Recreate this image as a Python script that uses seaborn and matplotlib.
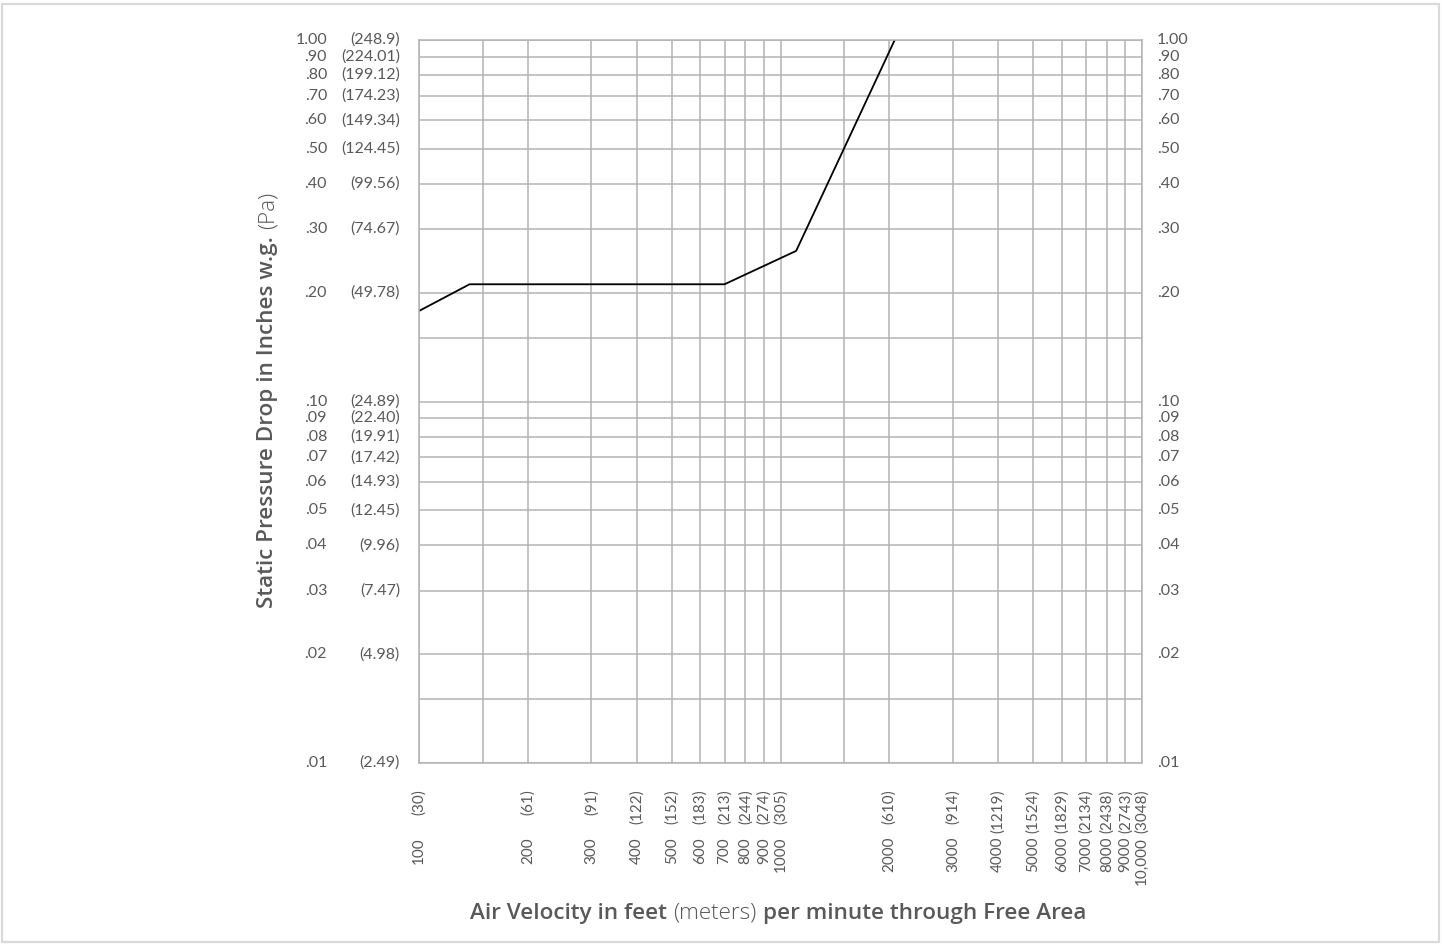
import matplotlib
matplotlib.use("Agg")
import matplotlib.pyplot as plt
import matplotlib.transforms as mtransforms
from matplotlib.patches import Rectangle
import seaborn as sns
import pandas as pd

# ---------------- data ----------------
velocity_fpm = [100, 138, 700, 1105, 2070]
pressure_inwg = [0.178, 0.211, 0.211, 0.261, 1.0]

y_ticks = [0.01, 0.02, 0.03, 0.04, 0.05, 0.06, 0.07, 0.08, 0.09, 0.10,
           0.20, 0.30, 0.40, 0.50, 0.60, 0.70, 0.80, 0.90, 1.00]
y_labels_in = [".01", ".02", ".03", ".04", ".05", ".06", ".07", ".08", ".09", ".10",
               ".20", ".30", ".40", ".50", ".60", ".70", ".80", ".90", "1.00"]
y_labels_pa = ["(2.49)", "(4.98)", "(7.47)", "(9.96)", "(12.45)", "(14.93)", "(17.42)",
               "(19.91)", "(22.40)", "(24.89)", "(49.78)", "(74.67)", "(99.56)",
               "(124.45)", "(149.34)", "(174.23)", "(199.12)", "(224.01)", "(248.9)"]
y_extra_grid = [0.015, 0.15]

x_ticks = [100, 200, 300, 400, 500, 600, 700, 800, 900, 1000,
           2000, 3000, 4000, 5000, 6000, 7000, 8000, 9000, 10000]
x_labels_ft = ["100", "200", "300", "400", "500", "600", "700", "800", "900", "1000",
               "2000", "3000", "4000", "5000", "6000", "7000", "8000", "9000", "10,000"]
x_labels_m = ["(30)", "(61)", "(91)", "(122)", "(152)", "(183)", "(213)", "(244)", "(274)",
              "(305)", "(610)", "(914)", "(1219)", "(1524)", "(1829)", "(2134)", "(2438)",
              "(2743)", "(3048)"]
x_extra_grid = [150, 1500]

df = pd.DataFrame({"velocity": velocity_fpm, "pressure": pressure_inwg})

# ---------------- style ----------------
sns.set_style("white")
plt.rcParams["font.family"] = ["Lato", "DejaVu Sans"]

TXT = "#595959"
GRID = "#b3b3b3"
W, H = 1442, 944
fig = plt.figure(figsize=(W / 100, H / 100), dpi=100)
ax = fig.add_axes([419 / W, 1 - 763 / H, (1142 - 419) / W, (763 - 40) / H])

sns.lineplot(data=df, x="velocity", y="pressure", ax=ax, color="black", lw=1.3,
             sort=False, legend=False)

ax.set_xscale("log")
ax.set_yscale("log")
ax.set_xlim(100, 10000)
ax.set_ylim(0.01, 1.0)

ax.set_xticks(x_ticks + x_extra_grid)
ax.set_yticks(y_ticks + y_extra_grid)
ax.set_xticks([], minor=True)
ax.set_yticks([], minor=True)
ax.tick_params(which="both", length=0, labelbottom=False, labelleft=False)
ax.grid(True, which="major", color=GRID, lw=1.1)
for s in ax.spines.values():
    s.set_color(GRID)
    s.set_linewidth(1.1)
ax.set_xlabel("")
ax.set_ylabel("")

FS = 11.5
FSX = 11
ytr = mtransforms.blended_transform_factory(ax.transAxes, ax.transData)
axw = 1142 - 419
for v, li, lp in zip(y_ticks, y_labels_in, y_labels_pa):
    ax.text((327 - 419) / axw, v, li, transform=ytr, ha="right", va="center",
            fontsize=FS, color=TXT)
    ax.text((400 - 419) / axw, v, lp, transform=ytr, ha="right", va="center",
            fontsize=FS, color=TXT)
    ax.text((1157 - 419) / axw, v, li, transform=ytr, ha="left", va="center",
            fontsize=FS, color=TXT)

for v, lf, lm in zip(x_ticks, x_labels_ft, x_labels_m):
    ax.annotate(lm, xy=(v, 0), xycoords=("data", "axes fraction"),
                xytext=(0, -26 * 0.72), textcoords="offset points",
                rotation=90, ha="center", va="top", fontsize=FSX, color=TXT)
    ax.annotate(lf, xy=(v, 0), xycoords=("data", "axes fraction"),
                xytext=(0, -74 * 0.72), textcoords="offset points",
                rotation=90, ha="center", va="top", fontsize=FSX, color=TXT)

# ---------------- mixed-weight axis titles ----------------
LFONT = ["Open Sans", "DejaVu Sans"]
LFS = 16.2
renderer = fig.canvas.get_renderer()


def mixed(parts, cx, cy, vertical=False):
    objs = []
    sizes = []
    for s, wt in parts:
        t = fig.text(0, 0, s, fontsize=LFS, fontweight=wt, color=TXT,
                     family=LFONT, rotation=90 if vertical else 0,
                     ha="left" if not vertical else "center",
                     va="center" if not vertical else "bottom",
                     transform=None)
        bb = t.get_window_extent(renderer)
        objs.append(t)
        sizes.append(bb.height if vertical else bb.width)
    gap = LFS * 0.30 * 100 / 72
    total = sum(sizes) + gap * (len(parts) - 1)
    pos = (cy if vertical else cx) - total / 2
    for t, sz in zip(objs, sizes):
        if vertical:
            t.set_position((cx, pos))
        else:
            t.set_position((pos, cy))
        pos += sz + gap


mixed([("Air Velocity in feet", "semibold"), ("(meters)", "light"),
       ("per minute through Free Area", "semibold")], 778, H - 913)
mixed([("Static Pressure Drop in Inches w.g.", "semibold"), ("(Pa)", "light")],
      268, H - 400, vertical=True)

fig.patches.append(Rectangle((2 / W, 2 / H), 1437 / W, 938 / H, transform=fig.transFigure,
                             fill=False, edgecolor="#d9d9d9", lw=1.6))

fig.savefig("out.png", dpi=100)
